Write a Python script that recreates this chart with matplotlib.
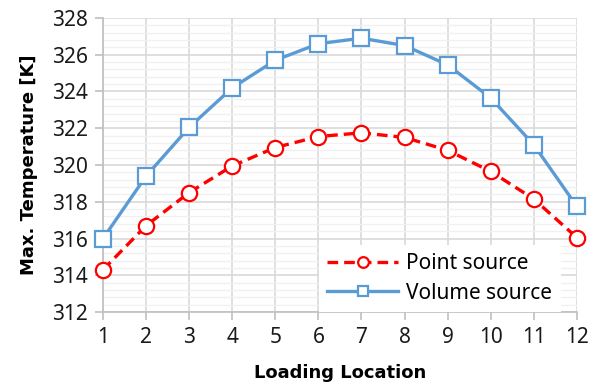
import matplotlib
matplotlib.use("Agg")
import matplotlib.pyplot as plt
from matplotlib.ticker import MultipleLocator

plt.rcParams['font.family'] = ['Noto Sans', 'DejaVu Sans']

locations = [1, 2, 3, 4, 5, 6, 7, 8, 9, 10, 11, 12]
point_source = [314.3, 316.7, 318.5, 319.95, 320.95, 321.55, 321.75, 321.5, 320.8, 319.65, 318.15, 316.05]
volume_source = [316.0, 319.4, 322.05, 324.2, 325.7, 326.6, 326.9, 326.5, 325.45, 323.65, 321.1, 317.75]
y_ticks = [312, 314, 316, 318, 320, 322, 324, 326, 328]

fig = plt.figure(figsize=(5.99, 3.91), dpi=100)
ax = fig.add_axes([0.172, 0.202, 0.791, 0.752])

red = '#ff0000'
blue = '#5b9bd5'

ax.plot(locations, point_source, color=red, lw=2.4, ls=(0, (3.2, 1.8)),
        marker='o', ms=11, mfc='white', mec=red, mew=1.6,
        label='Point source', clip_on=False, zorder=4)
ax.plot(locations, volume_source, color=blue, lw=2.4,
        marker='s', ms=11, mfc='white', mec=blue, mew=1.6,
        label='Volume source', clip_on=False, zorder=4)

ax.set_xlim(1, 12)
ax.set_ylim(312, 328)
ax.set_xticks(locations)
ax.set_yticks(y_ticks)
ax.yaxis.set_minor_locator(MultipleLocator(0.4))

ax.grid(which='major', axis='both', color='#d9d9d9', lw=1.2, zorder=0)
ax.grid(which='minor', axis='y', color='#f0f0f0', lw=1.0, zorder=0)
ax.set_axisbelow(True)

for s in ['top', 'right']:
    ax.spines[s].set_visible(False)
for s in ['left', 'bottom']:
    ax.spines[s].set_color('#bfbfbf')
    ax.spines[s].set_linewidth(1.2)

ax.tick_params(axis='both', which='major', direction='out', length=6, width=1.2,
               color='#bfbfbf', labelsize=15, labelcolor='#1a1a1a', pad=5)
ax.tick_params(axis='y', which='minor', length=0)

ax.set_xlabel('Loading Location', fontsize=13, fontweight='bold',
              family='DejaVu Sans', labelpad=11)
ax.set_ylabel('Max. Temperature [K]', fontsize=13, fontweight='bold',
              family='DejaVu Sans', labelpad=10)

leg = ax.legend(loc='lower right', bbox_to_anchor=(0.966, 0.0), frameon=True,
                fancybox=False, edgecolor='none', facecolor='white', framealpha=1,
                fontsize=15, handlelength=3.4, markerscale=0.7,
                borderpad=0.4, labelspacing=0.4, handletextpad=0.4,
                borderaxespad=0.0)

fig.savefig('out.png', dpi=100)
